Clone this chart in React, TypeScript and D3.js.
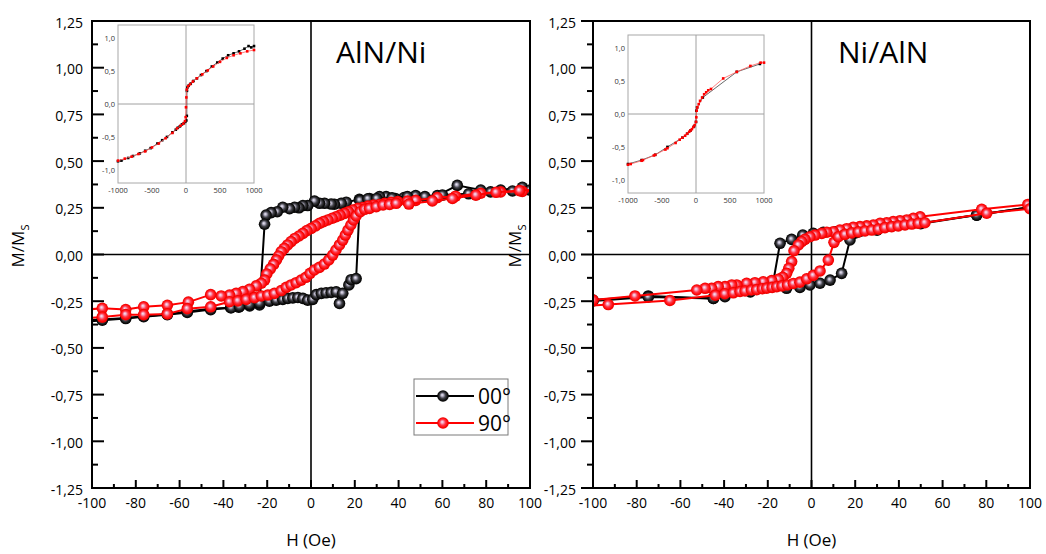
import React from 'react';
import * as d3 from 'd3';

type Pt = [number, number];

// ---- axis ticks ----
const hTicks = [-100, -80, -60, -40, -20, 0, 20, 40, 60, 80, 100];
const hMinorTicks = [-90, -70, -50, -30, -10, 10, 30, 50, 70, 90];
const mTicks = [-1.25, -1, -0.75, -0.5, -0.25, 0, 0.25, 0.5, 0.75, 1, 1.25];
const mMinorTicks = [-1.125, -0.875, -0.625, -0.375, -0.125, 0.125, 0.375, 0.625, 0.875, 1.125];
const insetHTicks = [-1000, -500, 0, 500, 1000];
const insetMTicks = [-1, -0.5, 0, 0.5, 1];

const legendLabels = ['00°', '90°'];

// ---- AlN/Ni, 00° ----
const alnNiBlackDown: Pt[] = [
  [108, 0.36], [96.5, 0.36], [86.6, 0.345], [77.5, 0.345], [66.8, 0.37], [57.7, 0.315], [47.8, 0.315],
  [42.5, 0.305], [38.5, 0.3], [34.3, 0.31], [31.3, 0.31], [26.7, 0.3], [22.1, 0.295], [16.1, 0.28],
  [13.8, 0.274], [10.7, 0.269], [9.2, 0.27], [6.2, 0.274], [3.9, 0.274], [1.6, 0.286], [-1.5, 0.262],
  [-3.7, 0.262], [-5.5, 0.25], [-7.5, 0.253], [-9.8, 0.245], [-12.9, 0.253], [-15.4, 0.229],
  [-18.2, 0.224], [-20.5, 0.211], [-21.2, 0.162], [-23.5, -0.27], [-28, -0.275], [-33, -0.282],
  [-36.7, -0.285], [-45.8, -0.29], [-56.5, -0.305], [-65.6, -0.32], [-76.4, -0.33], [-84.6, -0.34],
  [-95.3, -0.348], [-108, -0.355],
];
const alnNiBlackUp: Pt[] = [
  [-108, -0.365], [-95.3, -0.352], [-84.6, -0.343], [-76.4, -0.333], [-65.6, -0.322], [-56.5, -0.31],
  [-45.8, -0.295], [-36.4, -0.285], [-32.6, -0.278], [-28.1, -0.268], [-23.5, -0.26], [-19, -0.25],
  [-15.9, -0.244], [-12.9, -0.24], [-10.6, -0.235], [-8.3, -0.232], [-6, -0.23], [-3.7, -0.235],
  [-1.5, -0.244], [0.8, -0.24], [2.4, -0.215], [4.7, -0.208], [6.9, -0.205], [9.2, -0.203],
  [11.5, -0.2], [13, -0.262], [14.5, -0.208], [17.3, -0.163], [18.3, -0.135], [20.6, -0.129],
  [22.3, 0.29], [26, 0.298], [30, 0.3], [37, 0.303], [44, 0.31], [52, 0.31], [60, 0.318],
  [72, 0.325], [82, 0.335], [92, 0.34], [100, 0.345], [108, 0.35],
];

// ---- AlN/Ni, 90° ----
const alnNiRedDown: Pt[] = [
  [108, 0.342], [96.5, 0.338], [86.6, 0.335], [77.5, 0.328], [66, 0.312], [57.7, 0.305], [47.8, 0.29],
  [44, 0.286], [39.6, 0.283], [36.6, 0.279], [33.6, 0.274], [31.3, 0.268], [28.5, 0.265], [26, 0.259],
  [23.7, 0.252], [21.4, 0.247], [19.1, 0.238], [17.1, 0.229], [15.3, 0.22], [13.3, 0.211], [11.5, 0.202],
  [9.7, 0.194], [7.7, 0.185], [5.7, 0.176], [3.9, 0.167], [2.1, 0.153], [0.1, 0.14], [-1.9, 0.128],
  [-3.7, 0.113], [-5.5, 0.099], [-7.4, 0.086], [-9.1, 0.069], [-10.7, 0.051], [-12.2, 0.033],
  [-13.6, 0.015], [-14.8, -0.008], [-15.8, -0.029], [-17.1, -0.053], [-18.6, -0.077], [-20.2, -0.104],
  [-21.2, -0.137], [-22.7, -0.154], [-25, -0.168], [-28.1, -0.186], [-31.1, -0.199], [-34.2, -0.208],
  [-37.2, -0.217], [-41, -0.222], [-45.8, -0.215], [-56, -0.255], [-65.6, -0.272], [-76.4, -0.28],
  [-84.6, -0.295], [-95.3, -0.288], [-108, -0.3],
];
const alnNiRedUp: Pt[] = [
  [-108, -0.345], [-95.3, -0.335], [-84.6, -0.322], [-76.4, -0.322], [-65.6, -0.318], [-56.5, -0.29],
  [-45.8, -0.28], [-37.2, -0.253], [-33.4, -0.248], [-29.6, -0.24], [-25.8, -0.231], [-22.7, -0.222],
  [-19.7, -0.217], [-16.7, -0.208], [-13.6, -0.193], [-11.3, -0.176], [-9.1, -0.163], [-6.8, -0.151],
  [-4.5, -0.137], [-2.3, -0.122], [-0.4, -0.101], [1.5, -0.083], [3.8, -0.069], [6.1, -0.051],
  [8.1, -0.029], [9.9, -0.003], [11.4, 0.024], [13, 0.051], [14.5, 0.077], [15.7, 0.104], [16.9, 0.131],
  [18.2, 0.158], [19.4, 0.185], [20.6, 0.206], [22.5, 0.229], [24.5, 0.242], [26.7, 0.247],
  [29.8, 0.256], [32.9, 0.265], [35.9, 0.268], [38.9, 0.274], [44.7, 0.27], [55.4, 0.287],
  [64.6, 0.3], [75.3, 0.318], [84.5, 0.333], [95.2, 0.342], [108, 0.35],
];

// ---- Ni/AlN, 00° ----
const niAlnBlackDown: Pt[] = [
  [108, 0.265], [100, 0.253], [75.6, 0.211], [50, 0.168], [30, 0.14], [18, 0.126], [11, 0.121],
  [5.4, 0.119], [0.8, 0.113], [-4, 0.104], [-9.1, 0.081], [-14.4, 0.06], [-17.5, -0.146],
  [-28, -0.2], [-44.9, -0.235], [-74.7, -0.222], [-100, -0.244], [-108, -0.25],
];
const niAlnBlackUp: Pt[] = [
  [-108, -0.255], [-100, -0.249], [-74.7, -0.227], [-44.9, -0.235], [-39.6, -0.226], [-11.4, -0.181],
  [-5.3, -0.176], [-0.7, -0.163], [3.9, -0.154], [8.5, -0.137], [13.8, -0.101], [17.6, 0.078],
  [30, 0.13], [50, 0.165], [75.6, 0.211], [100, 0.253], [108, 0.262],
];

// ---- Ni/AlN, 90° ----
const niAlnRedDown: Pt[] = [
  [108, 0.285], [99, 0.268], [77.9, 0.242], [49.7, 0.202], [46.6, 0.194], [43.6, 0.185], [40.5, 0.181],
  [37.4, 0.176], [34.4, 0.17], [31.4, 0.167], [28.3, 0.158], [25.3, 0.153], [22.2, 0.149], [19.1, 0.146],
  [16.1, 0.138], [13, 0.131], [10, 0.122], [7, 0.119], [4.7, 0.113], [1.6, 0.104], [-0.7, 0.095],
  [-3, 0.081], [-4.5, 0.069], [-6, 0.051], [-8, 0.02], [-9.1, -0.038], [-10.4, -0.074],
  [-11.4, -0.101], [-13.2, -0.122], [-15.2, -0.133], [-18.2, -0.14], [-22.1, -0.146], [-25.9, -0.151],
  [-29.7, -0.154], [-34.2, -0.163], [-36.5, -0.163], [-39.6, -0.172], [-42.7, -0.172], [-45.7, -0.181],
  [-48.7, -0.181], [-52.5, -0.19], [-80.8, -0.222], [-100, -0.244], [-108, -0.25],
];
const niAlnRedUp: Pt[] = [
  [-108, -0.28], [-93, -0.268], [-64.8, -0.246], [-44, -0.218], [-39.7, -0.21], [-35.8, -0.205],
  [-32.7, -0.198], [-30.4, -0.195], [-27.5, -0.19], [-25.1, -0.188], [-22.5, -0.183], [-20.5, -0.18],
  [-18, -0.176], [-15.9, -0.172], [-13.5, -0.168], [-11, -0.163], [-8.3, -0.155], [-5.3, -0.148],
  [-2.2, -0.13], [0.8, -0.112], [3.9, -0.088], [7.7, -0.03], [10.3, 0.065], [12.3, 0.095],
  [15.3, 0.108], [18.4, 0.116], [21.4, 0.121], [24.5, 0.126], [27.6, 0.131], [30.6, 0.136],
  [33.6, 0.144], [36.7, 0.149], [39.7, 0.153], [42.8, 0.158], [45.9, 0.163], [48.9, 0.167],
  [51.9, 0.17], [80.2, 0.221], [100, 0.245], [108, 0.255],
];

// ---- insets: full field sweep ----
const insetAlnBlack: Pt[] = [
  [-1000, -0.87], [-950, -0.86], [-850, -0.82], [-780, -0.79], [-680, -0.75], [-600, -0.71], [-520, -0.67],
  [-420, -0.6], [-350, -0.55], [-280, -0.5], [-200, -0.43], [-150, -0.39], [-120, -0.36], [-90, -0.34],
  [-60, -0.31], [-30, -0.29], [-10, -0.27], [5, -0.25], [12, -0.18], [14, 0.2], [20, 0.25], [40, 0.28],
  [70, 0.31], [110, 0.35], [160, 0.39], [220, 0.44], [300, 0.5], [380, 0.57], [460, 0.63], [540, 0.69],
  [620, 0.74], [700, 0.77], [780, 0.8], [860, 0.84], [920, 0.88], [960, 0.86], [1000, 0.88],
];
const insetAlnRed: Pt[] = [
  [-1000, -0.86], [-900, -0.83], [-800, -0.8], [-700, -0.76], [-600, -0.72], [-500, -0.66], [-400, -0.6],
  [-300, -0.52], [-200, -0.44], [-130, -0.37], [-80, -0.33], [-40, -0.3], [-15, -0.26], [-5, -0.2],
  [0, -0.05], [5, 0.1], [12, 0.22], [30, 0.27], [60, 0.3], [100, 0.34], [160, 0.39], [240, 0.45],
  [320, 0.51], [400, 0.57], [500, 0.64], [600, 0.7], [700, 0.74], [800, 0.77], [900, 0.8], [1000, 0.82],
];
const insetNiBlack: Pt[] = [
  [-1000, -0.76], [-800, -0.7], [-600, -0.62], [-420, -0.5], [-200, -0.36], [-130, -0.3], [-80, -0.25],
  [-30, -0.19], [0, -0.12], [5, 0.05], [15, 0.1], [100, 0.25], [600, 0.64], [940, 0.76],
];
const insetNiRed: Pt[] = [
  [-1000, -0.77], [-960, -0.76], [-800, -0.71], [-780, -0.7], [-620, -0.63], [-600, -0.62],
  [-450, -0.54], [-420, -0.52], [-300, -0.44], [-240, -0.39], [-200, -0.36], [-160, -0.33],
  [-130, -0.3], [-100, -0.27], [-80, -0.25], [-60, -0.23], [-40, -0.2], [-20, -0.17], [0, -0.12],
  [5, -0.05], [10, 0.05], [20, 0.1], [40, 0.15], [60, 0.2], [90, 0.25], [120, 0.3], [150, 0.33],
  [180, 0.36], [220, 0.38], [400, 0.54], [600, 0.64], [800, 0.73], [950, 0.78], [1000, 0.78],
];

const FONT = "'Open Sans', 'Noto Sans', sans-serif";
const RED = '#ff0000';
const MARKER_R = 5.8;

const fmt = (v: number, d: number) => v.toFixed(d).replace('.', ',');

interface Series { data: Pt[]; color: string; grad: string }

interface InsetSpec { x0: number; x1: number; y0: number; y1: number; black: Pt[]; red: Pt[] }

interface PanelSpec {
  id: string;
  x0: number; x1: number; y0: number; y1: number;
  yTickDir: number;
  yLabelEnd: number;
  yTitleX: number;
  title: string;
  titleX: number;
  series: Series[];
  inset: InsetSpec;
  legend: boolean;
}

function Inset({ spec }: { spec: InsetSpec }) {
  const x = d3.scaleLinear().domain([-1000, 1000]).range([spec.x0, spec.x1]);
  const y = d3.scaleLinear().domain([-1.2, 1.2]).range([spec.y1, spec.y0]);
  const line = d3.line<Pt>().x(d => x(d[0])).y(d => y(d[1]));
  const draw = (data: Pt[], color: string, lineColor: string) => (
    <g>
      <path d={line(data) ?? ''} fill="none" stroke={lineColor} strokeWidth={0.8} />
      {data.map((d, i) => (
        <rect key={i} x={x(d[0]) - 1.3} y={y(d[1]) - 1.3} width={2.6} height={2.6} fill={color} />
      ))}
    </g>
  );
  return (
    <g>
      <rect x={spec.x0} y={spec.y0} width={spec.x1 - spec.x0} height={spec.y1 - spec.y0} fill="#fff" stroke="#a8a8a8" strokeWidth={1} />
      <line x1={x(0)} x2={x(0)} y1={spec.y0} y2={spec.y1} stroke="#a0a0a0" strokeWidth={1} />
      <line x1={spec.x0} x2={spec.x1} y1={y(0)} y2={y(0)} stroke="#a0a0a0" strokeWidth={1} />
      {draw(spec.black, '#000', '#444')}
      {draw(spec.red, RED, '#ff6060')}
      {insetMTicks.map(v => (
        <text key={v} x={spec.x0 - 3} y={y(v)} fontSize={7.5} fill="#333" textAnchor="end" dominantBaseline="central" fontFamily={FONT}>{fmt(v, 1)}</text>
      ))}
      {insetHTicks.map(v => (
        <text key={v} x={x(v)} y={spec.y1 + 10} fontSize={7.5} fill="#333" textAnchor="middle" fontFamily={FONT}>{v}</text>
      ))}
    </g>
  );
}

function Panel({ p }: { p: PanelSpec }) {
  const x = d3.scaleLinear().domain([-100, 100]).range([p.x0, p.x1]);
  const y = d3.scaleLinear().domain([-1.25, 1.25]).range([p.y1, p.y0]);
  const line = d3.line<Pt>().x(d => x(d[0])).y(d => y(d[1]));
  const clipId = `clip-${p.id}`;
  return (
    <g>
      <defs>
        <clipPath id={clipId}>
          <rect x={p.x0} y={p.y0} width={p.x1 - p.x0} height={p.y1 - p.y0} />
        </clipPath>
      </defs>
      <line x1={x(0)} x2={x(0)} y1={p.y0} y2={p.y1} stroke="#000" strokeWidth={1.6} />
      <line x1={p.x0} x2={p.x1} y1={y(0)} y2={y(0)} stroke="#000" strokeWidth={1.6} />
      <g clipPath={`url(#${clipId})`}>
        {p.series.map((s, si) => (
          <g key={si}>
            <path d={line(s.data) ?? ''} fill="none" stroke={s.color} strokeWidth={2} strokeLinejoin="round" />
            {s.data.map((d, i) => (
              <circle key={i} cx={x(d[0])} cy={y(d[1])} r={MARKER_R} fill={`url(#${s.grad})`} />
            ))}
          </g>
        ))}
      </g>
      <Inset spec={p.inset} />
      <text x={p.titleX} y={63} fontSize={30} fontFamily={FONT} fill="#000">{p.title}</text>
      {p.legend && (
        <g>
          <rect x={414} y={379} width={94} height={56} fill="#fff" stroke="#7a7a7a" strokeWidth={1} />
          {legendLabels.map((lab, i) => {
            const ly = 396 + i * 27;
            const col = i === 0 ? '#000' : RED;
            const grad = i === 0 ? 'sphereBlack' : 'sphereRed';
            return (
              <g key={lab}>
                <line x1={416} x2={474} y1={ly} y2={ly} stroke={col} strokeWidth={2} />
                <circle cx={443} cy={ly} r={MARKER_R} fill={`url(#${grad})`} />
                <text x={478} y={ly} fontSize={21} fontFamily={FONT} dominantBaseline="central" fill="#000">{lab}</text>
              </g>
            );
          })}
        </g>
      )}
      {/* frame */}
      <rect x={p.x0} y={p.y0} width={p.x1 - p.x0} height={p.y1 - p.y0} fill="none" stroke="#000" strokeWidth={2} />
      {/* bottom ticks point into the plot */}
      {hTicks.map(v => (
        <line key={`hM${v}`} x1={x(v)} x2={x(v)} y1={p.y1} y2={p.y1 - 8} stroke="#000" strokeWidth={2} />
      ))}
      {hMinorTicks.map(v => (
        <line key={`hm${v}`} x1={x(v)} x2={x(v)} y1={p.y1} y2={p.y1 - 4} stroke="#000" strokeWidth={2} />
      ))}
      {mTicks.map(v => (
        <line key={`mM${v}`} x1={p.x0} x2={p.x0 + 12 * p.yTickDir} y1={y(v)} y2={y(v)} stroke="#000" strokeWidth={2} />
      ))}
      {mMinorTicks.map(v => (
        <line key={`mm${v}`} x1={p.x0} x2={p.x0 + 6 * p.yTickDir} y1={y(v)} y2={y(v)} stroke="#000" strokeWidth={2} />
      ))}
      {hTicks.map(v => (
        <text key={`hl${v}`} x={x(v)} y={508} fontSize={14} fontFamily={FONT} textAnchor="middle" fill="#000">{v}</text>
      ))}
      {mTicks.map(v => (
        <text key={`ml${v}`} x={p.yLabelEnd} y={y(v) + 1} fontSize={14} fontFamily={FONT} textAnchor="end" dominantBaseline="central" fill="#000">{fmt(v, 2)}</text>
      ))}
      <text x={x(0)} y={546} fontSize={17} fontFamily={FONT} textAnchor="middle" fill="#000">H (Oe)</text>
      <text transform={`translate(${p.yTitleX},246) rotate(-90)`} fontSize={17} fontFamily={FONT} textAnchor="middle" fill="#000">
        M/M<tspan fontSize={11} dy={5}>S</tspan>
      </text>
    </g>
  );
}

const panels: PanelSpec[] = [
  {
    id: 'aln-ni', x0: 92, x1: 530, y0: 21, y1: 488, yTickDir: 1, yLabelEnd: 83, yTitleX: 24,
    title: 'AlN/Ni', titleX: 336,
    series: [
      { data: alnNiBlackDown, color: '#000', grad: 'sphereBlack' },
      { data: alnNiBlackUp, color: '#000', grad: 'sphereBlack' },
      { data: alnNiRedDown, color: RED, grad: 'sphereRed' },
      { data: alnNiRedUp, color: RED, grad: 'sphereRed' },
    ],
    inset: { x0: 118, x1: 254, y0: 25, y1: 183, black: insetAlnBlack, red: insetAlnRed },
    legend: true,
  },
  {
    id: 'ni-aln', x0: 593, x1: 1030, y0: 21, y1: 488, yTickDir: -1, yLabelEnd: 576, yTitleX: 521,
    title: 'Ni/AlN', titleX: 838,
    series: [
      { data: niAlnBlackDown, color: '#000', grad: 'sphereBlack' },
      { data: niAlnBlackUp, color: '#000', grad: 'sphereBlack' },
      { data: niAlnRedDown, color: RED, grad: 'sphereRed' },
      { data: niAlnRedUp, color: RED, grad: 'sphereRed' },
    ],
    inset: { x0: 628, x1: 764, y0: 35, y1: 193, black: insetNiBlack, red: insetNiRed },
    legend: false,
  },
];

export default function App() {
  return (
    <svg width={1046} height={554} style={{ position: 'absolute', left: 0, top: 0, background: '#fff' }}>
      <defs>
        <radialGradient id="sphereBlack" cx="0.5" cy="0.5" r="0.5" fx="0.42" fy="0.4">
          <stop offset="0" stopColor="#f2eef8" />
          <stop offset="0.22" stopColor="#b4b0c4" />
          <stop offset="0.5" stopColor="#45454c" />
          <stop offset="0.8" stopColor="#121212" />
          <stop offset="1" stopColor="#000" />
        </radialGradient>
        <radialGradient id="sphereRed" cx="0.5" cy="0.5" r="0.5" fx="0.42" fy="0.4">
          <stop offset="0" stopColor="#f6eef6" />
          <stop offset="0.22" stopColor="#f4a8c4" />
          <stop offset="0.5" stopColor="#ff3848" />
          <stop offset="0.8" stopColor="#ff0808" />
          <stop offset="1" stopColor="#e40000" />
        </radialGradient>
      </defs>
      <rect x={0} y={0} width={1046} height={554} fill="#fff" />
      {panels.map(p => <Panel key={p.id} p={p} />)}
    </svg>
  );
}
